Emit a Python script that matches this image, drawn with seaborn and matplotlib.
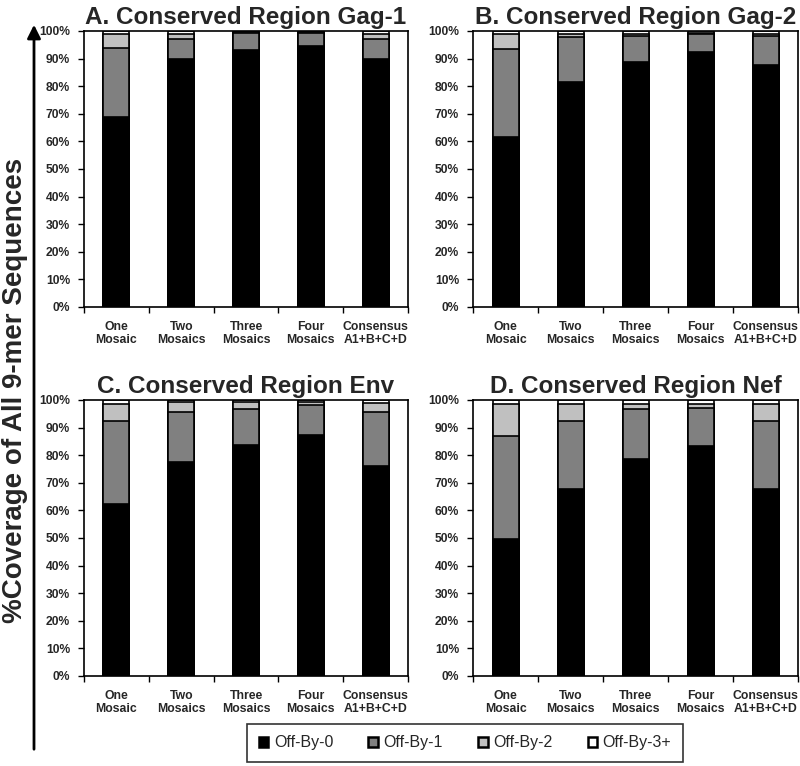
import matplotlib
import numpy as np
import pandas as pd

matplotlib.use("Agg")
import matplotlib.pyplot as plt
import seaborn as sns
from matplotlib.patches import FancyArrowPatch, Patch

categories = ["One\nMosaic", "Two\nMosaics", "Three\nMosaics", "Four\nMosaics", "Consensus\nA1+B+C+D"]
levels = ["Off-By-0", "Off-By-1", "Off-By-2", "Off-By-3+"]
level_colors = ["#000000", "#808080", "#c0c0c0", "#ffffff"]

titles = ["A. Conserved Region Gag-1", "B. Conserved Region Gag-2",
          "C. Conserved Region Env", "D. Conserved Region Nef"]

# percent of 9-mers per category, one list per mismatch level
gag1_off0 = [69.0, 89.8, 93.1, 94.7, 89.7]
gag1_off1 = [24.7, 7.4, 6.1, 4.5, 7.5]
gag1_off2 = [5.1, 1.8, 0.5, 0.5, 1.8]
gag1_off3 = [1.2, 1.0, 0.3, 0.3, 1.0]

gag2_off0 = [61.7, 81.6, 88.8, 92.5, 87.7]
gag2_off1 = [31.6, 16.1, 9.4, 6.3, 10.5]
gag2_off2 = [5.5, 1.1, 0.8, 0.6, 0.8]
gag2_off3 = [1.2, 1.2, 1.0, 0.6, 1.0]

env_off0 = [62.2, 77.5, 83.7, 87.2, 76.2]
env_off1 = [30.3, 18.3, 13.2, 11.1, 19.3]
env_off2 = [6.1, 3.4, 2.3, 0.9, 3.3]
env_off3 = [1.4, 0.8, 0.8, 0.8, 1.2]

nef_off0 = [49.8, 67.9, 78.5, 83.3, 67.9]
nef_off1 = [37.3, 24.5, 18.1, 13.9, 24.5]
nef_off2 = [11.5, 6.0, 1.9, 1.2, 6.0]
nef_off3 = [1.4, 1.6, 1.5, 1.6, 1.6]

panels = [
    [gag1_off0, gag1_off1, gag1_off2, gag1_off3],
    [gag2_off0, gag2_off1, gag2_off2, gag2_off3],
    [env_off0, env_off1, env_off2, env_off3],
    [nef_off0, nef_off1, nef_off2, nef_off3],
]

sns.set_theme(style="white")
plt.rcParams["font.family"] = ["Liberation Sans", "DejaVu Sans"]

fig = plt.figure(figsize=(8, 7.66), dpi=100)
W, H = 800, 766
boxes = [(84, 408, 31, 307), (473, 798, 31, 307), (84, 408, 400, 676), (473, 798, 400, 676)]

for (x0, x1, y0, y1), title, series in zip(boxes, titles, panels):
    ax = fig.add_axes([x0 / W, 1 - y1 / H, (x1 - x0) / W, (y1 - y0) / H])
    df = pd.DataFrame(np.array(series).T, columns=levels)
    df["category"] = categories
    cum = df[levels].cumsum(axis=1)
    # draw from the tallest cumulative stack down so lower segments sit on top
    for lvl, col in zip(levels[::-1], level_colors[::-1]):
        sns.barplot(x=df["category"], y=cum[lvl], color=col, width=0.4,
                    edgecolor="black", linewidth=1.2, ax=ax, saturation=1)
    ax.set_xlim(-0.5, 4.5)
    ax.set_ylim(0, 100)
    ax.set_yticks(np.arange(0, 101, 10))
    ax.set_yticklabels([f"{v}%" for v in range(0, 101, 10)], fontsize=8.7, fontweight="bold")
    ax.set_xticks(range(5))
    ax.set_xticklabels(categories, fontsize=8.8, fontweight="bold", linespacing=1.15)
    ax.set_xticks(np.arange(-0.5, 4.6, 1), minor=True)
    ax.tick_params(axis="x", which="major", length=0, pad=10)
    ax.tick_params(axis="x", which="minor", length=4, width=1, direction="out", color="black", bottom=True)
    ax.tick_params(axis="y", length=4, width=1, direction="out", color="black", left=True, pad=6)
    ax.set_xlabel("")
    ax.set_ylabel("")
    for s in ax.spines.values():
        s.set_color("black")
        s.set_linewidth(1.2)
    ax.set_title(title, fontsize=17.5, fontweight="bold", pad=5)

handles = [Patch(facecolor=c, edgecolor="black", linewidth=1.8) for c in level_colors]
leg = fig.legend(handles, levels, loc="center", bbox_to_anchor=(465 / W, 1 - 743 / H),
                 ncol=4, frameon=True, fontsize=11.5, handlelength=0.6, handleheight=0.6,
                 handletextpad=0.35, columnspacing=2.2, borderpad=0.75, fancybox=False)
leg.get_frame().set_edgecolor("black")
leg.get_frame().set_linewidth(1.2)

fig.text(15 / W, 1 - 390 / H, "%Coverage of All 9-mer Sequences", rotation=90,
         ha="center", va="center", fontweight="bold", fontsize=20,
         family=["Liberation Sans", "DejaVu Sans"])
fig.patches.append(FancyArrowPatch(
    (34 / W, 1 - 752 / H), (34 / W, 1 - 22 / H), transform=fig.transFigure,
    arrowstyle="-|>,head_length=8,head_width=4", color="black", linewidth=2))

fig.savefig("out.png", dpi=100)
